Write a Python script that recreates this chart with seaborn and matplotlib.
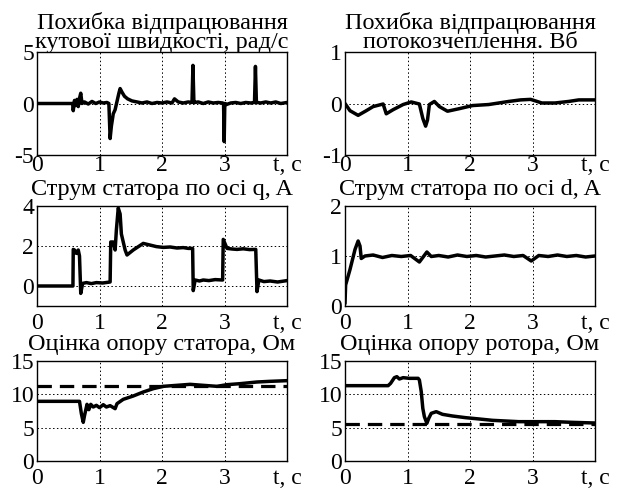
import numpy as np
import pandas as pd
import seaborn as sns
import matplotlib
matplotlib.use("Agg")
import matplotlib.pyplot as plt

# speed tracking error, rad/s
speed_t = [0.00, 0.57, 0.58, 0.60, 0.62, 0.64, 0.66, 0.68, 0.70, 0.72, 0.76, 0.82, 0.88,
           0.94, 1.00, 1.06, 1.12, 1.15, 1.17, 1.19, 1.22, 1.25, 1.28, 1.31, 1.33, 1.36,
           1.40, 1.45, 1.52, 1.60, 1.68, 1.76, 1.84, 1.92, 2.00, 2.08, 2.16, 2.20, 2.26,
           2.34, 2.42, 2.48, 2.495, 2.51, 2.52, 2.58, 2.66, 2.74, 2.82, 2.90, 2.97, 2.985,
           2.995, 3.005, 3.03, 3.10, 3.18, 3.26, 3.34, 3.42, 3.48, 3.495, 3.51, 3.52, 3.58,
           3.66, 3.74, 3.82, 3.90, 4.00]
speed_err = [0.0, 0.0, -0.7, 0.3, -0.2, 0.4, -0.3, 0.5, 1.0, 0.0, 0.15, -0.05, 0.2,
             0.0, 0.15, 0.05, 0.1, 0.0, -3.4, -2.2, -1.0, -0.6, 0.2, 1.0, 1.45, 1.1,
             0.7, 0.45, 0.25, 0.15, 0.05, 0.15, 0.0, 0.1, 0.05, 0.15, 0.05, 0.45, 0.15,
             0.05, 0.15, 0.1, 3.7, 0.2, 0.1, 0.15, 0.0, 0.15, 0.05, 0.1, 0.05, 0.0,
             -3.7, 0.0, -0.1, 0.05, 0.1, 0.0, 0.1, 0.05, 0.1, 3.6, 0.2, 0.1, 0.05,
             0.15, 0.05, 0.15, 0.0, 0.1]

# flux linkage tracking error, Wb
flux_t = [0.00, 0.08, 0.21, 0.34, 0.45, 0.61, 0.66, 0.77, 0.93, 1.06, 1.19, 1.245, 1.29,
          1.32, 1.35, 1.43, 1.51, 1.64, 1.83, 2.04, 2.30, 2.46, 2.62, 2.81, 2.97, 3.15,
          3.36, 3.58, 3.74, 4.00]
flux_err = [0.0, -0.14, -0.23, -0.14, -0.06, -0.01, -0.2, -0.12, -0.02, 0.03, -0.01, -0.29,
            -0.44, -0.32, -0.02, 0.04, -0.06, -0.15, -0.1, -0.04, -0.02, 0.01, 0.04, 0.07,
            0.08, 0.01, 0.01, 0.04, 0.07, 0.07]

# stator current, q axis, A
isq_t = [0.00, 0.575, 0.58, 0.60, 0.63, 0.66, 0.68, 0.70, 0.73, 0.79, 0.87, 0.95, 1.05,
         1.17, 1.18, 1.22, 1.25, 1.27, 1.30, 1.33, 1.35, 1.41, 1.44, 1.54, 1.70, 1.91,
         2.02, 2.13, 2.24, 2.34, 2.42, 2.49, 2.50, 2.53, 2.60, 2.66, 2.75, 2.85, 2.97,
         2.98, 3.04, 3.12, 3.20, 3.30, 3.40, 3.50, 3.52, 3.55, 3.63, 3.73, 3.85, 4.00]
isq = [0.0, 0.0, 1.83, 1.8, 1.63, 1.8, 1.5, -0.37, 0.13, 0.17, 0.12, 0.17, 0.15,
       0.2, 2.2, 2.2, 1.8, 2.8, 3.9, 3.6, 2.6, 1.8, 1.55, 1.8, 2.13, 1.97,
       1.93, 1.95, 1.9, 1.92, 1.88, 1.88, -0.23, 0.3, 0.25, 0.3, 0.27, 0.32, 0.3,
       2.33, 1.88, 1.85, 1.83, 1.86, 1.82, 1.83, -0.28, 0.3, 0.22, 0.25, 0.2, 0.27]

# stator current, d axis, A
isd_t = [0.00, 0.01, 0.08, 0.16, 0.21, 0.24, 0.26, 0.32, 0.45, 0.60, 0.75, 0.90, 1.05,
         1.19, 1.31, 1.38, 1.50, 1.65, 1.80, 1.95, 2.10, 2.25, 2.40, 2.55, 2.70, 2.85,
         2.98, 3.10, 3.25, 3.40, 3.55, 3.70, 3.85, 4.00]
isd = [0.05, 0.42, 0.73, 1.13, 1.3, 1.2, 0.95, 1.0, 1.02, 0.97, 1.01, 0.99, 1.01,
       0.88, 1.08, 0.99, 1.01, 0.98, 1.02, 0.99, 1.01, 0.98, 1.0, 1.02, 0.99, 1.01,
       0.9, 1.01, 0.99, 1.02, 0.99, 1.01, 0.98, 1.0]

# stator resistance estimate, Ohm
rs_t = [0.00, 0.68, 0.71, 0.74, 0.76, 0.80, 0.83, 0.86, 0.90, 0.95, 1.00, 1.06, 1.11,
        1.17, 1.25, 1.28, 1.38, 1.54, 1.70, 1.86, 2.02, 2.24, 2.45, 2.66, 2.88, 3.04,
        3.25, 3.52, 3.73, 4.00]
rs_est = [8.95, 8.95, 7.1, 5.8, 6.8, 8.5, 7.7, 8.5, 8.1, 8.35, 8.0, 8.45, 8.1,
          8.3, 7.85, 8.6, 9.25, 9.75, 10.35, 10.85, 11.2, 11.35, 11.5, 11.35, 11.2, 11.45,
          11.6, 11.85, 11.95, 12.05]
rs_true = 11.2

# rotor resistance estimate, Ohm
rr_t = [0.00, 0.69, 0.73, 0.79, 0.83, 0.87, 0.93, 1.03, 1.17, 1.19, 1.22, 1.245, 1.27,
        1.31, 1.34, 1.38, 1.46, 1.56, 1.72, 1.93, 2.15, 2.36, 2.57, 2.78, 3.10, 3.36,
        3.63, 4.00]
rr_est = [11.3, 11.3, 11.65, 12.5, 12.65, 12.3, 12.5, 12.4, 12.4, 12.15, 10.4, 7.9, 6.65,
          5.65, 6.4, 7.15, 7.4, 7.0, 6.75, 6.5, 6.3, 6.1, 6.0, 5.9, 5.9, 5.9,
          5.8, 5.7]
rr_true = 5.6

titles = ["Похибка відпрацювання\nкутової швидкості, рад/с",
          "Похибка відпрацювання\nпотокозчеплення. Вб",
          "Струм статора по осі q, A",
          "Струм статора по осі d, A",
          "Оцінка опору статора, Ом",
          "Оцінка опору ротора, Ом"]
x_labels = ["0", "1", "2", "3", "t, c"]

sns.set_theme(style="white")
plt.rcParams["font.family"] = ["Liberation Serif", "DejaVu Serif"]
plt.rcParams["axes.unicode_minus"] = False

fig = plt.figure(figsize=(6.21, 4.91), dpi=100)

col_left = [37 / 621, 345 / 621]
ax_w = 250 / 621
row_bottom = [1 - 155 / 491, 1 - 306 / 491, 1 - 461 / 491]
row_h = [103 / 491, 100 / 491, 100 / 491]

panels = [
    (speed_t, speed_err, (-5, 5), [-5, 0, 5], None),
    (flux_t, flux_err, (-1, 1), [-1, 0, 1], None),
    (isq_t, isq, (-1, 4), [0, 2, 4], None),
    (isd_t, isd, (0, 2), [0, 1, 2], None),
    (rs_t, rs_est, (0, 15), [0, 5, 10, 15], rs_true),
    (rr_t, rr_est, (0, 15), [0, 5, 10, 15], rr_true),
]

for i, (t, v, ylim, yticks, ref) in enumerate(panels):
    row, col = divmod(i, 2)
    ax = fig.add_axes([col_left[col], row_bottom[row], ax_w, row_h[row]])
    df = pd.DataFrame({"t": t, "v": v})
    sns.lineplot(data=df, x="t", y="v", ax=ax, color="black", linewidth=2.5,
                 sort=False, estimator=None)
    if ref is not None:
        sns.lineplot(x=[0, 4], y=[ref, ref], ax=ax, color="black", linewidth=2.3)
        ax.lines[-1].set_dashes([4.5, 2.5])
    ax.set_xlim(0, 4)
    ax.set_ylim(*ylim)
    ax.set_xticks([0, 1, 2, 3, 4], x_labels)
    ax.set_yticks(yticks)
    ax.set_xlabel("")
    ax.set_ylabel("")
    ax.grid(True, color="black", linestyle=(0, (1.5, 2.5)), linewidth=0.7)
    ax.tick_params(axis="both", length=0, labelsize=17, colors="black")
    ax.tick_params(axis="x", pad=0 if row == 0 else 5)
    ax.tick_params(axis="y", pad=2)
    for s in ax.spines.values():
        s.set_color("black")
        s.set_linewidth(1.0)
    ax.set_title(titles[i], fontsize=17.5, pad=3 if row == 0 else 8, linespacing=0.88,
                 color="black")

fig.savefig("out.png", dpi=100)
